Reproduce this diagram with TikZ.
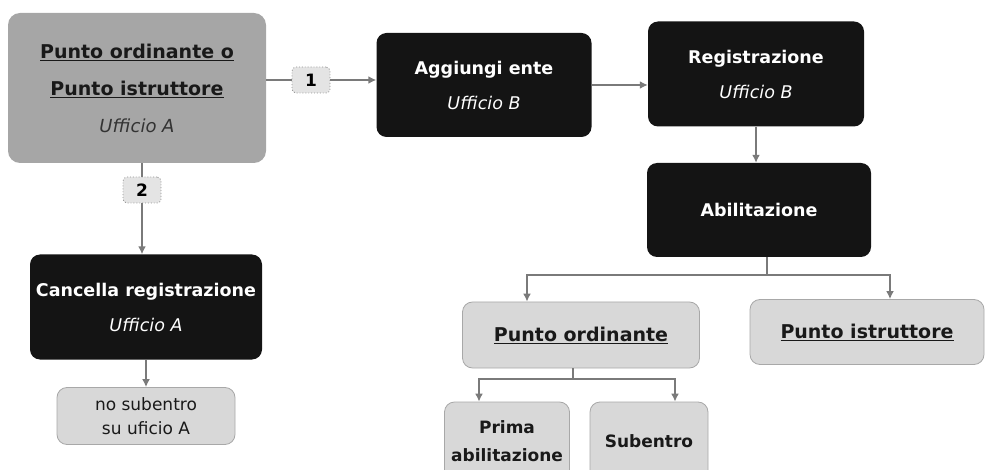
\documentclass[tikz,border=0pt]{standalone}
\usepackage{fontspec}
\setmainfont{DejaVu Sans}
\usetikzlibrary{arrows.meta}

\definecolor{boxdark}{HTML}{141414}
\definecolor{boxmid}{HTML}{A6A6A6}
\definecolor{boxlight}{HTML}{D8D8D8}
\definecolor{linkgray}{HTML}{7A7A7A}

\begin{document}
\begin{tikzpicture}[x=1pt,y=-1pt,
  darkbox/.style={fill=boxdark,rounded corners=10pt,text=white,align=center,inner sep=0pt,font=\bfseries\fontsize{17.5}{35}\selectfont},
  midbox/.style={fill=boxmid,rounded corners=12pt,text=black!90,align=center,inner sep=0pt,font=\bfseries\fontsize{19}{37}\selectfont},
  lightbox/.style={fill=boxlight,draw=boxlight!78!black,line width=0.8pt,rounded corners=10pt,text=black!90,align=center,inner sep=0pt},
  numbox/.style={fill=boxlight!70!white,draw=gray!85,dotted,line width=0.9pt,rounded corners=4pt,inner sep=0pt,minimum width=38pt,minimum height=26pt,font=\bfseries\fontsize{17}{17}\selectfont},
  link/.style={draw=linkgray,line width=2.5pt},
  linkarrow/.style={link,-{Latex[length=8pt,width=8pt]}},
]
\useasboundingbox (0,0) rectangle (985,470);

\node[midbox,minimum width=258pt,minimum height=150pt] (ordist) at (137,88)
  {\underline{Punto ordinante o}\\\underline{Punto istruttore}\\{\mdseries\itshape\color{black!80}\fontsize{18}{37}\selectfont Ufficio A}};
\node[numbox] (num1) at (311,80) {1};
\node[numbox] (num2) at (142,190) {2};

\node[darkbox,minimum width=215pt,minimum height=104pt] (aggiungi) at (484,85)
  {Aggiungi ente\\{\mdseries\itshape Ufficio B}};
\node[darkbox,minimum width=216pt,minimum height=105pt] (registra) at (756,74)
  {Registrazione\\{\mdseries\itshape Ufficio B}};
\node[darkbox,minimum width=224pt,minimum height=94pt] (abilita) at (759,210)
  {Abilitazione};
\node[darkbox,minimum width=232pt,minimum height=105pt] (cancella) at (146,307)
  {Cancella registrazione\\{\mdseries\itshape Ufficio A}};

\node[lightbox,minimum width=178pt,minimum height=57pt,font=\fontsize{17}{24}\selectfont] (nosub) at (146,416)
  {no subentro\\su uficio A};
\node[lightbox,minimum width=237pt,minimum height=66pt,font=\bfseries\fontsize{19}{24}\selectfont] (puntoord) at (581,335)
  {\underline{Punto ordinante}};
\node[lightbox,minimum width=234pt,minimum height=65pt,font=\bfseries\fontsize{19}{24}\selectfont] (puntoistr) at (867,332)
  {\underline{Punto istruttore}};
\node[lightbox,minimum width=125pt,minimum height=78pt,font=\bfseries\fontsize{17}{28}\selectfont] (prima) at (507,441)
  {Prima\\abilitazione};
\node[lightbox,minimum width=118pt,minimum height=78pt,font=\bfseries\fontsize{17}{28}\selectfont] (subentro) at (649,441)
  {Subentro};

\draw[link] (num1.west -| ordist.east) -- (num1.west);
\draw[linkarrow] (num1.east) -- (num1.east -| aggiungi.west);
\draw[link] (num2.north |- ordist.south) -- (num2.north);
\draw[linkarrow] (num2.south) -- (num2.south |- cancella.north);
\draw[linkarrow] (cancella.south) -- (nosub.north);
\draw[linkarrow] (aggiungi.east) -- (aggiungi.east -| registra.west);
\draw[linkarrow] (registra.south) -- (registra.south |- abilita.north);

\coordinate (absplit) at (767,275);
\draw[link] (absplit |- abilita.south) -- (absplit);
\draw[linkarrow] (absplit) -| ([xshift=-54pt]puntoord.north);
\draw[linkarrow] (absplit) -| ([xshift=23pt]puntoistr.north);
\coordinate (posplit) at (573,379);
\draw[link] (posplit |- puntoord.south) -- (posplit);
\draw[linkarrow] (posplit) -| ([xshift=-28pt]prima.north);
\draw[linkarrow] (posplit) -| ([xshift=26pt]subentro.north);
\end{tikzpicture}
\end{document}
